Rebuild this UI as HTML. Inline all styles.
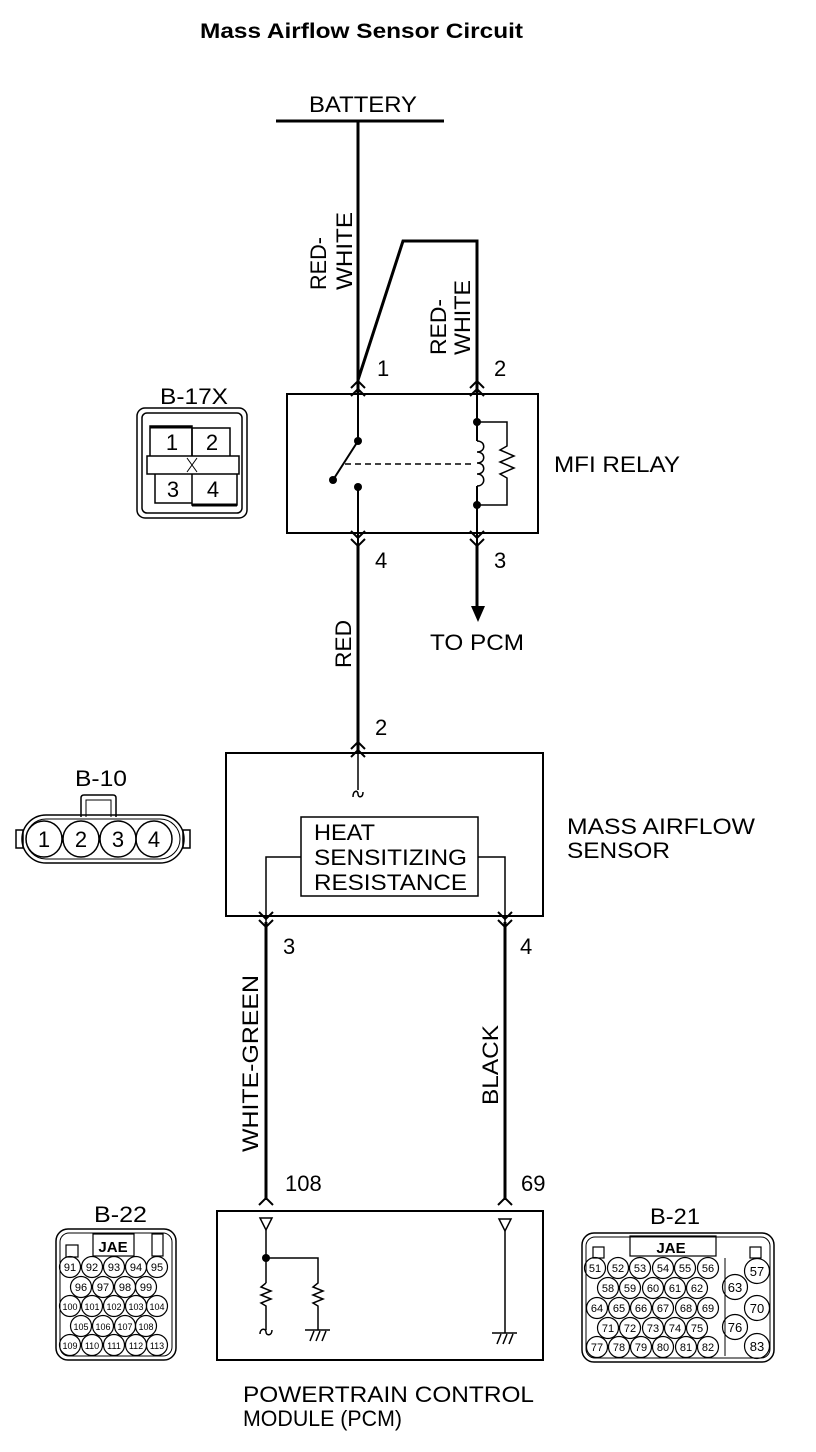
<!DOCTYPE html>
<html><head><meta charset="utf-8"><style>
html,body{margin:0;padding:0;background:#fff;}
svg{display:block;}
text{font-family:"Liberation Sans",sans-serif;fill:#000;}
</style></head><body>
<svg width="816" height="1452" viewBox="0 0 816 1452" xmlns="http://www.w3.org/2000/svg">
<g fill="none" stroke="#000">
<text x="200" y="38" font-size="21" font-weight="bold" textLength="323" lengthAdjust="spacingAndGlyphs" stroke="none">Mass Airflow Sensor Circuit</text>
<text x="309" y="112" font-size="22" textLength="108" lengthAdjust="spacingAndGlyphs" stroke="none">BATTERY</text>
<line x1="276" y1="121" x2="444" y2="121" stroke-width="3"/>
<line x1="358" y1="121" x2="358" y2="394" stroke-width="3"/>
<polyline points="358,380 403,241 477,241 477,394" stroke-width="3"/>
<g stroke="none" font-size="22">
<text transform="translate(326,290) rotate(-90)" textLength="53" lengthAdjust="spacingAndGlyphs">RED-</text>
<text transform="translate(352,290) rotate(-90)" textLength="78" lengthAdjust="spacingAndGlyphs">WHITE</text>
<text transform="translate(446,355) rotate(-90)" textLength="56" lengthAdjust="spacingAndGlyphs">RED-</text>
<text transform="translate(470,355) rotate(-90)" textLength="75" lengthAdjust="spacingAndGlyphs">WHITE</text>
<text x="377" y="376">1</text>
<text x="494" y="376">2</text>
<text x="554" y="472" textLength="126" lengthAdjust="spacingAndGlyphs">MFI RELAY</text>
<text x="375" y="568">4</text>
<text x="494" y="568">3</text>
<text x="430" y="650" textLength="94" lengthAdjust="spacingAndGlyphs">TO PCM</text>
<text transform="translate(351,668) rotate(-90)" textLength="48" lengthAdjust="spacingAndGlyphs">RED</text>
<text x="375" y="735">2</text>
<text x="567" y="834" textLength="188" lengthAdjust="spacingAndGlyphs">MASS AIRFLOW</text>
<text x="567" y="858" textLength="103" lengthAdjust="spacingAndGlyphs">SENSOR</text>
<text x="314" y="840" textLength="61" lengthAdjust="spacingAndGlyphs">HEAT</text>
<text x="314" y="865" textLength="153" lengthAdjust="spacingAndGlyphs">SENSITIZING</text>
<text x="314" y="890" textLength="153" lengthAdjust="spacingAndGlyphs">RESISTANCE</text>
<text x="283" y="954">3</text>
<text x="520" y="954">4</text>
<text transform="translate(258,1152) rotate(-90)" textLength="177" lengthAdjust="spacingAndGlyphs">WHITE-GREEN</text>
<text transform="translate(498,1105) rotate(-90)" textLength="80" lengthAdjust="spacingAndGlyphs">BLACK</text>
<text x="285" y="1191">108</text>
<text x="521" y="1191">69</text>
<text x="243" y="1402" textLength="291" lengthAdjust="spacingAndGlyphs">POWERTRAIN CONTROL</text>
<text x="243" y="1426" textLength="159" lengthAdjust="spacingAndGlyphs">MODULE (PCM)</text>
</g>
<!-- relay -->
<rect x="287" y="394" width="251" height="139" stroke-width="2"/>
<path d="M351,388 L358,381 L365,388 M351,396 L358,389 L365,396" stroke-width="2"/>
<path d="M470,388 L477,381 L484,388 M470,396 L477,389 L484,396" stroke-width="2"/>
<line x1="358" y1="394" x2="358" y2="441" stroke-width="2"/>
<line x1="358" y1="441" x2="333" y2="480" stroke-width="2"/>
<line x1="358" y1="487" x2="358" y2="545" stroke-width="2"/>
<line x1="345" y1="464" x2="472" y2="464" stroke-width="1.5" stroke-dasharray="6,4"/>
<g fill="#000" stroke="none">
<circle cx="358" cy="441" r="4"/><circle cx="333" cy="480" r="4"/><circle cx="358" cy="487" r="4"/>
<circle cx="477" cy="422" r="4"/><circle cx="477" cy="505" r="4"/>
</g>
<line x1="477" y1="394" x2="477" y2="441" stroke-width="2"/>
<path d="M477,441 C486,441 486,452 477,452 C486,452 486,463 477,463 C486,463 486,474 477,474 C486,474 486,486 477,486" stroke-width="1.5"/>
<line x1="477" y1="486" x2="477" y2="545" stroke-width="2"/>
<polyline points="477,422 507,422 507,446 500,450 514,456 500,462 514,468 500,474 507,478 507,505 477,505" stroke-width="1.5"/>
<path d="M351,531 L358,538 L365,531 M351,539 L358,546 L365,539" stroke-width="2"/>
<path d="M470,531 L477,538 L484,531 M470,539 L477,546 L484,539" stroke-width="2"/>
<line x1="358" y1="545" x2="358" y2="753" stroke-width="3"/>
<line x1="477" y1="545" x2="477" y2="610" stroke-width="3"/>
<polygon points="471,606 485,606 478,622" fill="#000" stroke="none"/>
<!-- MAF -->
<rect x="226" y="753" width="317" height="163" stroke-width="2"/>
<path d="M351,749 L358,742 L365,749 M351,757 L358,750 L365,757" stroke-width="2"/>
<line x1="358" y1="753" x2="358" y2="790" stroke-width="1.5"/>
<path d="M353,797 C353,790 358,790 358,794 C358,798 363,798 363,792" stroke-width="1.5"/>
<rect x="301" y="817" width="177" height="79" stroke-width="1.5"/>
<polyline points="301,857 266,857 266,928" stroke-width="1.5"/>
<polyline points="478,857 505,857 505,928" stroke-width="1.5"/>
<path d="M259,912 L266,919 L273,912 M259,920 L266,927 L273,920" stroke-width="2"/>
<path d="M498,912 L505,919 L512,912 M498,920 L505,927 L512,920" stroke-width="2"/>
<line x1="266" y1="922" x2="266" y2="1200" stroke-width="3"/>
<line x1="505" y1="922" x2="505" y2="1200" stroke-width="3"/>
<!-- PCM -->
<rect x="217" y="1211" width="326" height="149" stroke-width="2"/>
<path d="M259,1205 L266,1198 L273,1205" stroke-width="2"/>
<path d="M498,1205 L505,1198 L512,1205" stroke-width="2"/>
<polygon points="260,1218 272,1218 266,1230" stroke-width="1.5"/>
<polygon points="499,1219 511,1219 505,1231" stroke-width="1.5"/>
<line x1="266" y1="1230" x2="266" y2="1283" stroke-width="1.5"/>
<polyline points="266,1283 261,1287 271,1291 261,1295 271,1299 261,1303 266,1306 266,1330" stroke-width="1.5"/>
<path d="M260,1334 C260,1328 266,1328 266,1332 C266,1336 272,1336 272,1330" stroke-width="1.5"/>
<circle cx="266" cy="1258" r="4" fill="#000" stroke="none"/>
<polyline points="266,1258 318,1258 318,1283 313,1287 323,1291 313,1295 323,1299 313,1303 318,1306 318,1330" stroke-width="1.5"/>
<path d="M305,1330 L330,1330 M310,1341 L314,1331 M316,1341 L320,1331 M322,1341 L326,1331" stroke-width="1.5"/>
<line x1="505" y1="1231" x2="505" y2="1333" stroke-width="1.5"/>
<path d="M492,1333 L517,1333 M497,1344 L501,1334 M503,1344 L507,1334 M509,1344 L513,1334" stroke-width="1.5"/>
<!-- B-17X -->
<text x="160" y="404" font-size="22" textLength="68" lengthAdjust="spacingAndGlyphs" stroke="none">B-17X</text>
<rect x="137" y="408" width="110" height="110" rx="8" stroke-width="1.5"/>
<rect x="142" y="413" width="100" height="100" rx="5" stroke-width="1.5"/>
<polyline points="150,456 150,426 192,426 192,456" stroke-width="1.5"/>
<line x1="150" y1="427" x2="192" y2="427" stroke-width="3"/>
<polyline points="192,456 192,428 230,428 230,456" stroke-width="1.5"/>
<rect x="147" y="456" width="92" height="18" stroke-width="1.5"/>
<path d="M187,458 L197,472 M197,458 L187,472" stroke-width="1"/>
<polyline points="155,474 155,503 192,503" stroke-width="1.5"/>
<polyline points="192,474 192,505 237,505 237,474" stroke-width="1.5"/>
<line x1="192" y1="505" x2="237" y2="505" stroke-width="3"/>
<g stroke="none" font-size="22" text-anchor="middle">
<text x="172" y="450">1</text><text x="212" y="450">2</text>
<text x="173" y="497">3</text><text x="213" y="497">4</text>
</g>
<!-- B-10 -->
<text x="75" y="786" font-size="22" textLength="52" lengthAdjust="spacingAndGlyphs" stroke="none">B-10</text>
<path d="M81,817 L81,798 Q81,795 84,795 L113,795 Q116,795 116,798 L116,817" stroke-width="1.5"/>
<path d="M86,817 L86,800 L111,800 L111,817" stroke-width="1"/>
<rect x="22" y="815" width="162" height="48" rx="24" stroke-width="1.5"/>
<rect x="26" y="819" width="154" height="40" rx="20" stroke-width="1"/>
<rect x="16" y="830" width="7" height="18" stroke-width="1.5"/>
<rect x="183" y="830" width="7" height="18" stroke-width="1.5"/>
<circle cx="44" cy="839" r="18" stroke-width="1.5"/>
<circle cx="81" cy="839" r="18" stroke-width="1.5"/>
<circle cx="118" cy="839" r="18" stroke-width="1.5"/>
<circle cx="154" cy="839" r="18" stroke-width="1.5"/>
<g stroke="none" font-size="22" text-anchor="middle">
<text x="44" y="847">1</text><text x="81" y="847">2</text><text x="118" y="847">3</text><text x="154" y="847">4</text>
</g>
<!-- B-22 -->
<text x="94" y="1222" font-size="22" textLength="53" lengthAdjust="spacingAndGlyphs" stroke="none">B-22</text>
<rect x="56" y="1229" width="120" height="131" rx="12" stroke-width="1.5"/>
<rect x="60" y="1233" width="112" height="123" rx="9" stroke-width="1"/>
<rect x="66" y="1245" width="12" height="12" stroke-width="1.2"/>
<rect x="152" y="1234" width="11" height="22" stroke-width="1.2"/>
<rect x="93" y="1234" width="41" height="22" stroke-width="1.2"/>
<text x="113" y="1252" font-size="15" font-weight="bold" text-anchor="middle" stroke="none">JAE</text>
<g stroke-width="1.2" font-size="11">
<circle cx="70" cy="1267" r="10.5"/><circle cx="92" cy="1267" r="10.5"/><circle cx="114" cy="1267" r="10.5"/><circle cx="136" cy="1267" r="10.5"/><circle cx="157" cy="1267" r="10.5"/>
<circle cx="81" cy="1287" r="10.5"/><circle cx="103" cy="1287" r="10.5"/><circle cx="125" cy="1287" r="10.5"/><circle cx="146" cy="1287" r="10.5"/>
<circle cx="70" cy="1306" r="10.5"/><circle cx="92" cy="1306" r="10.5"/><circle cx="114" cy="1306" r="10.5"/><circle cx="136" cy="1306" r="10.5"/><circle cx="157" cy="1306" r="10.5"/>
<circle cx="81" cy="1326" r="10.5"/><circle cx="103" cy="1326" r="10.5"/><circle cx="125" cy="1326" r="10.5"/><circle cx="146" cy="1326" r="10.5"/>
<circle cx="70" cy="1345" r="10.5"/><circle cx="92" cy="1345" r="10.5"/><circle cx="114" cy="1345" r="10.5"/><circle cx="136" cy="1345" r="10.5"/><circle cx="157" cy="1345" r="10.5"/>
<g stroke="none" text-anchor="middle">
<text x="70" y="1271">91</text><text x="92" y="1271">92</text><text x="114" y="1271">93</text><text x="136" y="1271">94</text><text x="157" y="1271">95</text>
<text x="81" y="1291">96</text><text x="103" y="1291">97</text><text x="125" y="1291">98</text><text x="146" y="1291">99</text>
<text x="70" y="1310" font-size="9">100</text><text x="92" y="1310" font-size="9">101</text><text x="114" y="1310" font-size="9">102</text><text x="136" y="1310" font-size="9">103</text><text x="157" y="1310" font-size="9">104</text>
<text x="81" y="1330" font-size="9">105</text><text x="103" y="1330" font-size="9">106</text><text x="125" y="1330" font-size="9">107</text><text x="146" y="1330" font-size="9">108</text>
<text x="70" y="1349" font-size="9">109</text><text x="92" y="1349" font-size="9">110</text><text x="114" y="1349" font-size="9">111</text><text x="136" y="1349" font-size="9">112</text><text x="157" y="1349" font-size="9">113</text>
</g></g>
<!-- B-21 -->
<text x="650" y="1224" font-size="22" textLength="50" lengthAdjust="spacingAndGlyphs" stroke="none">B-21</text>
<rect x="582" y="1233" width="192" height="129" rx="12" stroke-width="1.5"/>
<rect x="586" y="1237" width="184" height="121" rx="9" stroke-width="1"/>
<rect x="593" y="1247" width="11" height="11" stroke-width="1.2"/>
<rect x="750" y="1247" width="11" height="11" stroke-width="1.2"/>
<rect x="630" y="1236" width="86" height="20" stroke-width="1.2"/>
<text x="671" y="1253" font-size="15" font-weight="bold" text-anchor="middle" stroke="none">JAE</text>
<line x1="725" y1="1258" x2="725" y2="1356" stroke-width="1"/>
<g stroke-width="1.2" font-size="11">
<circle cx="595" cy="1268" r="10.5"/><circle cx="618" cy="1268" r="10.5"/><circle cx="640" cy="1268" r="10.5"/><circle cx="663" cy="1268" r="10.5"/><circle cx="685" cy="1268" r="10.5"/><circle cx="708" cy="1268" r="10.5"/>
<circle cx="608" cy="1288" r="10.5"/><circle cx="630" cy="1288" r="10.5"/><circle cx="653" cy="1288" r="10.5"/><circle cx="675" cy="1288" r="10.5"/><circle cx="697" cy="1288" r="10.5"/>
<circle cx="597" cy="1308" r="10.5"/><circle cx="619" cy="1308" r="10.5"/><circle cx="641" cy="1308" r="10.5"/><circle cx="663" cy="1308" r="10.5"/><circle cx="686" cy="1308" r="10.5"/><circle cx="708" cy="1308" r="10.5"/>
<circle cx="608" cy="1328" r="10.5"/><circle cx="630" cy="1328" r="10.5"/><circle cx="653" cy="1328" r="10.5"/><circle cx="675" cy="1328" r="10.5"/><circle cx="697" cy="1328" r="10.5"/>
<circle cx="597" cy="1347" r="10.5"/><circle cx="619" cy="1347" r="10.5"/><circle cx="641" cy="1347" r="10.5"/><circle cx="663" cy="1347" r="10.5"/><circle cx="686" cy="1347" r="10.5"/><circle cx="708" cy="1347" r="10.5"/>
<circle cx="757" cy="1271" r="12.5"/><circle cx="735" cy="1287" r="12.5"/><circle cx="757" cy="1308" r="12.5"/><circle cx="735" cy="1327" r="12.5"/><circle cx="757" cy="1346" r="12.5"/>
<g stroke="none" text-anchor="middle">
<text x="595" y="1272">51</text><text x="618" y="1272">52</text><text x="640" y="1272">53</text><text x="663" y="1272">54</text><text x="685" y="1272">55</text><text x="708" y="1272">56</text>
<text x="608" y="1292">58</text><text x="630" y="1292">59</text><text x="653" y="1292">60</text><text x="675" y="1292">61</text><text x="697" y="1292">62</text>
<text x="597" y="1312">64</text><text x="619" y="1312">65</text><text x="641" y="1312">66</text><text x="663" y="1312">67</text><text x="686" y="1312">68</text><text x="708" y="1312">69</text>
<text x="608" y="1332">71</text><text x="630" y="1332">72</text><text x="653" y="1332">73</text><text x="675" y="1332">74</text><text x="697" y="1332">75</text>
<text x="597" y="1351">77</text><text x="619" y="1351">78</text><text x="641" y="1351">79</text><text x="663" y="1351">80</text><text x="686" y="1351">81</text><text x="708" y="1351">82</text>
<text x="757" y="1276" font-size="13">57</text><text x="735" y="1292" font-size="13">63</text><text x="757" y="1313" font-size="13">70</text><text x="735" y="1332" font-size="13">76</text><text x="757" y="1351" font-size="13">83</text>
</g></g>
</g>
</svg>
</body></html>
